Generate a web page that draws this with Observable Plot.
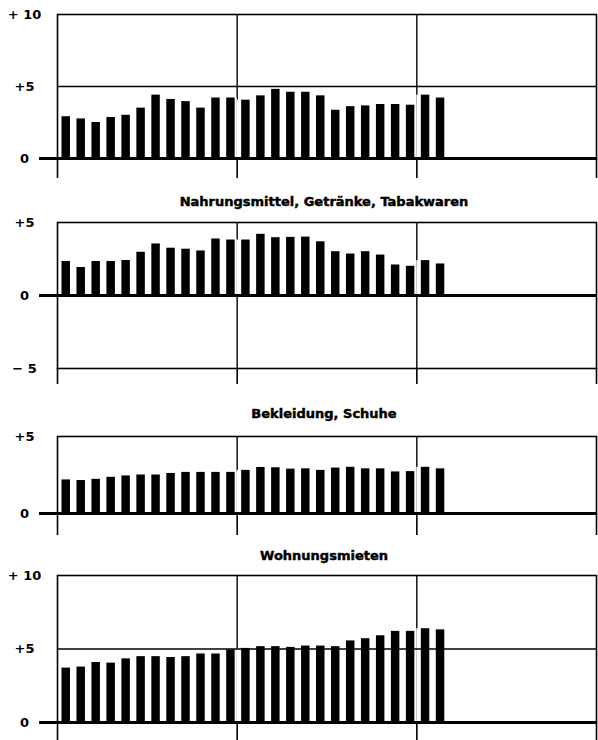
<!DOCTYPE html>
<html><head><meta charset="utf-8">
<script src="https://cdn.jsdelivr.net/npm/d3@7"></script>
<script src="https://cdn.jsdelivr.net/npm/@observablehq/plot@0.6"></script>
<style>
  body { margin: 0; background: #fff; }
  #chart { width: 598px; }
  #chart svg { display: block; }
</style>
</head><body>
<div id="chart"></div>
<script>
// monthly changes vs. previous year (%), 26 months shown on a 36-month axis
const monthCount = 36;
const yearTicks = [0, 12, 24, 36];

const titleGesamt = null;
const valuesGesamt = [2.9, 2.75, 2.5, 2.85, 3.0, 3.5, 4.4, 4.1, 3.95, 3.5, 4.2, 4.2, 4.05,
  4.35, 4.8, 4.6, 4.6, 4.35, 3.35, 3.6, 3.65, 3.75, 3.75, 3.7, 4.4, 4.2];

const titleNahrung = "Nahrungsmittel, Getränke, Tabakwaren";
const valuesNahrung = [2.33, 1.92, 2.33, 2.33, 2.4, 2.96, 3.53, 3.24, 3.17, 3.05, 3.87, 3.8, 3.8,
  4.19, 3.96, 3.98, 4.0, 3.68, 3.0, 2.84, 3.0, 2.77, 2.09, 2.0, 2.39, 2.16];

const titleBekleidung = "Bekleidung, Schuhe";
const valuesBekleidung = [2.18, 2.14, 2.22, 2.35, 2.44, 2.5, 2.5, 2.6, 2.67, 2.67, 2.67, 2.67, 2.8,
  2.99, 2.97, 2.88, 2.9, 2.8, 2.95, 3.0, 2.9, 2.9, 2.7, 2.72, 3.0, 2.9];

const titleMieten = "Wohnungsmieten";
const valuesMieten = [3.7, 3.77, 4.08, 4.04, 4.33, 4.48, 4.48, 4.42, 4.48, 4.66, 4.66, 4.93, 5.04,
  5.16, 5.16, 5.11, 5.2, 5.2, 5.16, 5.55, 5.7, 5.9, 6.2, 6.2, 6.38, 6.3];

const yTicksA = [0, 5, 10];
const yLabelsA = ["0", "+5", "+ 10"];
const yTicksB = [-5, 0, 5];
const yLabelsB = ["\u2212 5", "0", "+5"];
const yTicksC = [0, 5];
const yLabelsC = ["0", "+5"];

function panel({values, title, yDomain, yTicks, yLabels, hLines, marginTop, plotHeight, marginBottom, tickLen, titleDy}) {
  const data = values.map((v, i) => ({i, v}));
  const labelOf = new Map(yTicks.map((t, k) => [t, yLabels[k]]));
  const marks = [
    Plot.ruleX([12, 24], {stroke: "black", strokeWidth: 1.4}),
    Plot.rectY(data, {x1: "i", x2: d => d.i + 1, y1: 0, y2: "v", fill: "white"}),
    Plot.ruleY(hLines, {stroke: "black", strokeWidth: 1.4}),
    Plot.rectY(data, {x1: "i", x2: d => d.i + 1, y1: 0, y2: "v", fill: "black", insetLeft: 4.5, insetRight: 2}),
    Plot.frame({stroke: "black", strokeWidth: 1.6}),
    Plot.ruleY([0], {stroke: "black", strokeWidth: 3, insetLeft: -18}),
    Plot.axisX({ticks: yearTicks, tickSize: tickLen, tickFormat: () => "", label: null, strokeWidth: 1.6}),
    Plot.axisY({ticks: yTicks, tickSize: 0, tickPadding: 33, textAnchor: "middle", label: null,
      tickFormat: t => labelOf.get(t), fontSize: 13, fontWeight: "bold", fill: "black",
      stroke: "black", strokeWidth: 0.5})
  ];
  if (title) {
    marks.push(Plot.text([title], {frameAnchor: "top", dy: titleDy, dx: -3, text: d => d,
      fontSize: 13, fontWeight: "bold", fill: "black", stroke: "black", strokeWidth: 0.45}));
  }
  return Plot.plot({
    width: 598,
    height: marginTop + plotHeight + marginBottom,
    marginTop, marginBottom, marginLeft: 57, marginRight: 2,
    x: {domain: [0, monthCount]},
    y: {domain: yDomain},
    style: {fontFamily: "DejaVu Sans", background: "white", color: "black"},
    marks
  });
}

const chart = document.getElementById("chart");
chart.append(panel({values: valuesGesamt, title: titleGesamt, yDomain: [0, 10], yTicks: yTicksA, yLabels: yLabelsA,
  hLines: [5], marginTop: 14, plotHeight: 144, marginBottom: 22, tickLen: 20, titleDy: -20}));
chart.append(panel({values: valuesNahrung, title: titleNahrung, yDomain: [-5, 5], yTicks: yTicksB, yLabels: yLabelsB,
  hLines: [], marginTop: 42, plotHeight: 146, marginBottom: 20, tickLen: 16, titleDy: -26}));
chart.append(panel({values: valuesBekleidung, title: titleBekleidung, yDomain: [0, 5], yTicks: yTicksC, yLabels: yLabelsC,
  hLines: [], marginTop: 48, plotHeight: 77, marginBottom: 24, tickLen: 22, titleDy: -28}));
chart.append(panel({values: valuesMieten, title: titleMieten, yDomain: [0, 10], yTicks: yTicksA, yLabels: yLabelsA,
  hLines: [5], marginTop: 38, plotHeight: 147, marginBottom: 18, tickLen: 18, titleDy: -25}));
</script>
</body></html>
